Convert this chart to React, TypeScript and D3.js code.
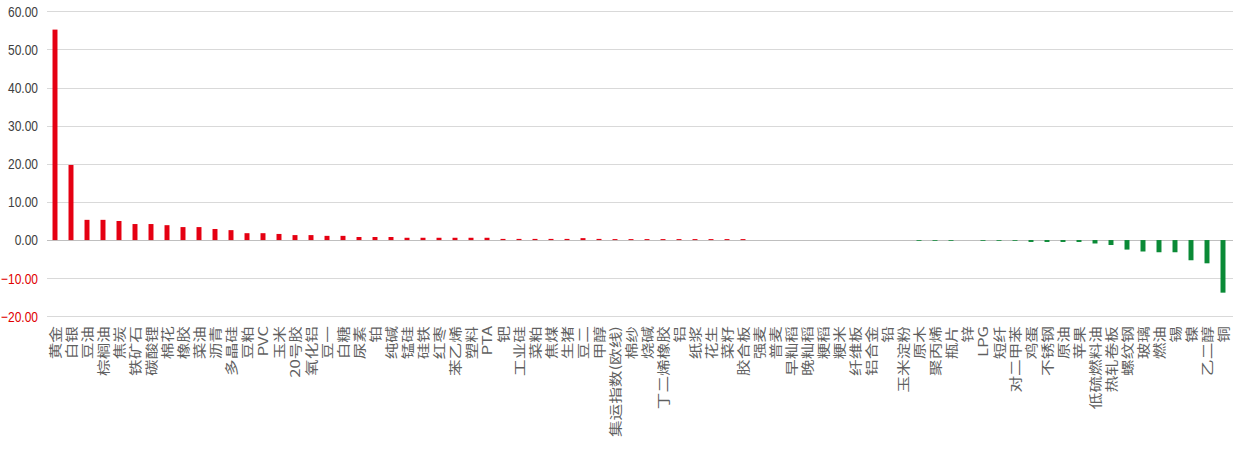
import * as d3 from 'd3';

const categories = [
  '黄金', '白银', '豆油', '棕榈油', '焦炭', '铁矿石', '碳酸锂', '棉花', '橡胶', '菜油',
  '沥青', '多晶硅', '豆粕', 'PVC', '玉米', '20号胶', '氧化铝', '豆一', '白糖', '尿素',
  '铂', '纯碱', '锰硅', '硅铁', '红枣', '苯乙烯', '塑料', 'PTA', '钯', '工业硅',
  '菜粕', '焦煤', '生猪', '豆二', '甲醇', '集运指数(欧线)', '棉纱', '烧碱', '丁二烯橡胶', '铝',
  '纸浆', '花生', '菜籽', '胶合板', '强麦', '普麦', '早籼稻', '晚籼稻', '粳稻', '粳米',
  '纤维板', '铝合金', '铅', '玉米淀粉', '原木', '聚丙烯', '瓶片', '锌', 'LPG', '短纤',
  '对二甲苯', '鸡蛋', '不锈钢', '原油', '苹果', '低硫燃料油', '热轧卷板', '螺纹钢', '玻璃', '燃油',
  '锡', '镍', '乙二醇', '铜',
];

const changes = [
  55.2, 19.7, 5.3, 5.3, 5.0, 4.2, 4.2, 3.9, 3.4, 3.4,
  2.9, 2.6, 1.8, 1.8, 1.6, 1.3, 1.3, 1.1, 1.1, 0.8,
  0.8, 0.8, 0.6, 0.6, 0.6, 0.6, 0.6, 0.6, 0.3, 0.3,
  0.3, 0.3, 0.3, 0.5, 0.3, 0.25, 0.25, 0.25, 0.25, 0.25,
  0.25, 0.25, 0.25, 0.25, 0, 0, 0, 0, 0, 0,
  0, 0, 0, 0, -0.2, -0.2, -0.2, 0, -0.2, -0.2,
  -0.2, -0.5, -0.5, -0.5, -0.5, -0.9, -1.3, -2.5, -3.0, -3.2,
  -3.2, -5.3, -6.1, -13.8,
];

const yTicks = [60, 50, 40, 30, 20, 10, 0, -10, -20];

const W = 1233;
const H = 449;

export default function App() {
  const x = d3.scaleBand<string>().domain(categories).range([47, 1231]).paddingInner(0.69).paddingOuter(0.345);
  const y = d3.scaleLinear().domain([-20, 60]).range([316.3, 11.3]);
  const fmt = d3.format('.2f');
  const data = categories.map((c, i) => ({ c, v: changes[i] }));

  return (
    <svg width={W} height={H} style={{ position: 'absolute', left: 0, top: 0, background: '#fff' }}>
      {/* grid */}
      {yTicks.map((t) => (
        <g key={t}>
          <line
            x1={47}
            x2={W}
            y1={Math.round(y(t)) + 0.5}
            y2={Math.round(y(t)) + 0.5}
            stroke={t === 0 ? '#bfbfbf' : '#d9d9d9'}
            strokeWidth={1}
          />
          <text
            transform={`translate(38,${y(t)}) scale(1,1.25)`}
            textAnchor="end"
            dy="0.36em"
            fontFamily="'Liberation Sans', Arial, sans-serif"
            fontSize={12}
            fill={t < 0 ? '#e00000' : '#404040'}
          >
            {fmt(t)}
          </text>
        </g>
      ))}

      {/* bars */}
      {data.map((d) => (
        <rect
          key={d.c}
          x={x(d.c)}
          width={x.bandwidth()}
          y={y(Math.max(0, d.v))}
          height={Math.abs(y(d.v) - y(0))}
          fill={d.v >= 0 ? '#e50012' : '#0a8a36'}
        />
      ))}

      {/* category labels */}
      {data.map((d) => (
        <text
          key={'l' + d.c}
          transform={`translate(${(x(d.c) ?? 0) + x.bandwidth() / 2},326) rotate(-90) scale(1.28,1)`}
          textAnchor="end"
          dy="0.36em"
          fontFamily="'Noto Sans CJK SC', 'Noto Sans', sans-serif"
          fontSize={13}
          fill="#5f5f5f"
        >
          {d.c}
        </text>
      ))}
    </svg>
  );
}
